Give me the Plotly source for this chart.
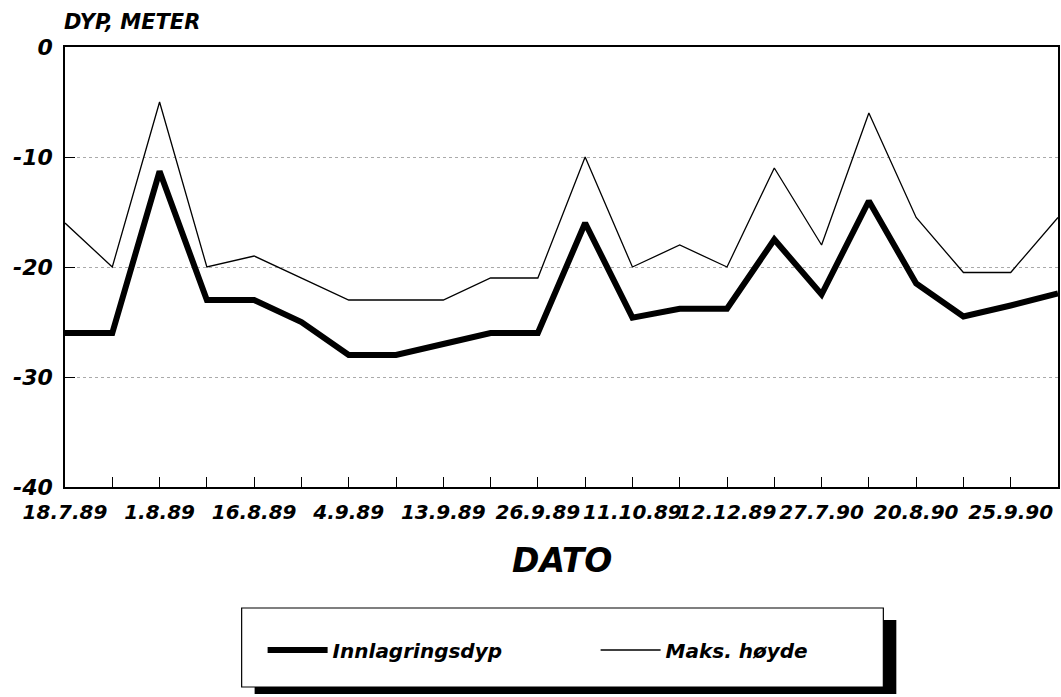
import plotly.graph_objects as go

# ---- data ----
positions = list(range(22))
tick_labels = ["18.7.89", "", "1.8.89", "", "16.8.89", "", "4.9.89", "", "13.9.89", "",
               "26.9.89", "", "11.10.89", "", "12.12.89", "", "27.7.90", "", "20.8.90", "",
               "25.9.90", ""]
innlagringsdyp = [-26, -26, -11.3, -23, -23, -25, -28, -28, -27, -26, -26, -16,
                  -24.6, -23.8, -23.8, -17.5, -22.5, -14, -21.5, -24.5, -23.5, -22.4]
maks_hoyde = [-16, -20, -5, -20, -19, -21, -23, -23, -23, -21, -21, -10,
              -20, -18, -20, -11, -18, -6, -15.5, -20.5, -20.5, -15.5]
y_ticks = [0, -10, -20, -30, -40]

FONT = "DejaVu Sans"

fig = go.Figure()
fig.add_trace(go.Scatter(x=positions, y=innlagringsdyp, mode="lines", name="Innlagringsdyp",
                         line=dict(color="black", width=6)))
fig.add_trace(go.Scatter(x=positions, y=maks_hoyde, mode="lines", name="Maks. høyde",
                         line=dict(color="black", width=1.3)))

W, H = 1061, 697
L, T = 65, 47
R = W - 1060
B = H - 487
pw, ph = W - L - R, H - T - B

def px(x):  # page pixel -> paper
    return (x - L) / pw

def py(y):
    return (H - B - y) / ph

# legend box with shadow
fig.add_shape(type="rect", xref="paper", yref="paper",
              x0=px(255), x1=px(898), y0=py(694), y1=py(620),
              fillcolor="black", line=dict(width=0), layer="below")
fig.add_shape(type="rect", xref="paper", yref="paper",
              x0=px(242), x1=px(885), y0=py(687), y1=py(608),
              fillcolor="white", line=dict(color="black", width=1.2), layer="below")

fig.add_annotation(text="DYP, METER", xref="paper", yref="paper", x=px(62), y=py(22),
                   xanchor="left", yanchor="middle", showarrow=False,
                   font=dict(family=FONT, size=21, color="black", weight="bold", style="italic"))
fig.add_annotation(text="DATO", xref="paper", yref="paper", x=px(563), y=py(560),
                   xanchor="center", yanchor="middle", showarrow=False,
                   font=dict(family=FONT, size=33, color="black", weight="bold", style="italic"))

fig.update_layout(
    width=W, height=H,
    margin=dict(l=L, r=R, t=T, b=B),
    paper_bgcolor="white", plot_bgcolor="white",
    showlegend=True,
    legend=dict(orientation="h", x=px(263), y=py(650), xanchor="left", yanchor="middle",
                bgcolor="rgba(0,0,0,0)", borderwidth=0, itemwidth=60,
                entrywidth=258, entrywidthmode="pixels",
                font=dict(family=FONT, size=20, color="black", weight="bold", style="italic")),
    xaxis=dict(range=[0, 21], tickmode="array", tickvals=positions, ticktext=tick_labels,
               tickangle=0,
               ticks="inside", ticklen=10, tickwidth=1.2, tickcolor="black",
               showline=True, linecolor="black", linewidth=1.5, mirror=True,
               showgrid=False, zeroline=False, ticklabelstandoff=6,
               tickfont=dict(family=FONT, size=20, color="black", weight="bold", style="italic")),
    yaxis=dict(range=[-40, 0], tickmode="array", tickvals=y_ticks,
               ticktext=[str(v) for v in y_ticks],
               ticks="inside", ticklen=10, tickwidth=1.2, tickcolor="black",
               showline=True, linecolor="black", linewidth=1.5, mirror=True,
               showgrid=True, gridcolor="#aaa", griddash="dot", gridwidth=1,
               zeroline=False, ticklabelstandoff=6,
               tickfont=dict(family=FONT, size=22, color="black", weight="bold", style="italic")),
)

fig.write_html("out.html", config={"displayModeBar": False},
               post_script="document.body.style.margin='0';document.body.style.overflow='hidden';")
